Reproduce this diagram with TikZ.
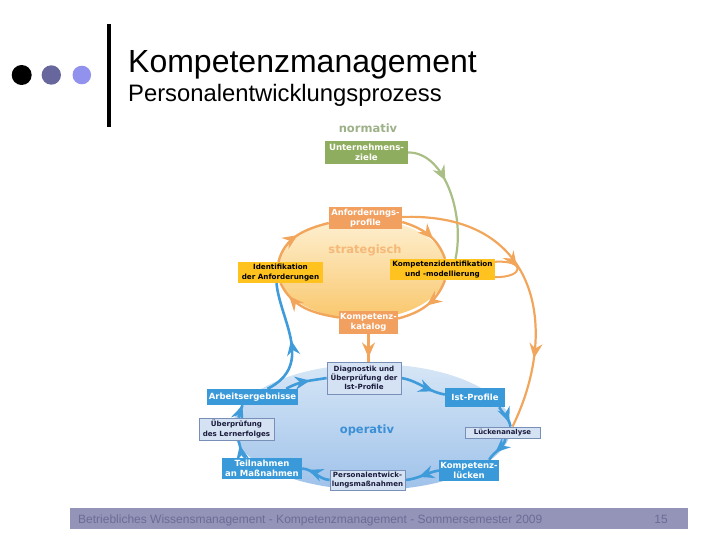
\documentclass[tikz,border=0pt]{standalone}
\usepackage{fontspec}
\setmainfont{Liberation Sans}
\newfontfamily\dv{DejaVu Sans}
\usetikzlibrary{arrows.meta,decorations.markings}
\definecolor{grn}{HTML}{8FAD5E}
\definecolor{grl}{HTML}{A9BF86}
\definecolor{grt}{HTML}{9DB088}
\definecolor{org}{HTML}{F2A060}
\definecolor{orl}{HTML}{F2A65C}
\definecolor{ort}{HTML}{F5B878}
\definecolor{ylw}{HTML}{FFC21E}
\definecolor{blu}{HTML}{3A9AD9}
\definecolor{bll}{HTML}{3F9BDA}
\definecolor{blt}{HTML}{3B8FD6}
\definecolor{lbl}{HTML}{D4E2F4}
\definecolor{lbd}{HTML}{7890B8}
\definecolor{navy}{HTML}{1C1C3C}
\definecolor{stA}{HTML}{FEF0D2}
\definecolor{stM}{HTML}{FDDD9C}
\definecolor{stB}{HTML}{F9C76C}
\definecolor{opA}{HTML}{D6E6F6}
\definecolor{opB}{HTML}{9FC2EA}
\definecolor{dotB}{HTML}{67679E}
\definecolor{dotC}{HTML}{9191EE}
\definecolor{barc}{HTML}{9494B8}
\definecolor{bart}{HTML}{6B6B96}
\pgfdeclarelayer{bg}
\pgfdeclarelayer{lines}
\pgfsetlayers{bg,lines,main}
\begin{document}
\begin{tikzpicture}[x=1pt,y=1pt,
  box/.style={rectangle, inner sep=0pt, align=center},
  gbox/.style={box, fill=grn, text=white, font=\dv\bfseries\fontsize{8.6}{9.8}\selectfont},
  obox/.style={box, fill=org, text=white, font=\dv\bfseries\fontsize{8.4}{9.8}\selectfont},
  ybox/.style={box, fill=ylw, text=black, font=\dv\bfseries\fontsize{7.2}{9.2}\selectfont},
  bbox/.style={box, fill=blu, text=white, font=\dv\bfseries\fontsize{8.5}{10}\selectfont},
  lbox/.style={box, fill=lbl, draw=lbd, line width=0.8pt, text=navy, font=\dv\bfseries\fontsize{7.1}{9.3}\selectfont},
  lvl/.style={inner sep=0pt, font=\dv\bfseries\fontsize{11.5}{12}\selectfont},
  oline/.style={draw=orl, line width=2.4pt},
  bline/.style={draw=bll, line width=2.6pt},
  gline/.style={draw=grl, line width=2.2pt},
  mid/.style={postaction={decorate}, decoration={markings, mark=at position #1 with {\arrow{Stealth[length=15pt,width=13pt,inset=5pt]}}}}
]
\useasboundingbox (0,0) rectangle (720,-540);

% header
\fill[black] (21.7,-75) circle (10);
\fill[dotB] (51.3,-75) circle (9.7);
\fill[dotC] (81.8,-75) circle (9.3);
\fill[black] (107,-24) rectangle (111,-127);
\node[anchor=base west, inner sep=0pt, font=\fontsize{32}{36}\selectfont] (title) at (128,-73) {Kompetenzmanagement};
\node[anchor=base west, inner sep=0pt, font=\fontsize{23.8}{28}\selectfont] (sub) at (128,-102) {Personalentwicklungsprozess};

% footer
\fill[barc] (70,-508) rectangle (688,-529);
\node[anchor=base west, inner sep=0pt, text=bart, font=\fontsize{12}{14}\selectfont] (foot) at (78,-523) {Betriebliches Wissensmanagement - Kompetenzmanagement - Sommersemester 2009};
\node[anchor=base, inner sep=0pt, text=bart, font=\fontsize{12}{14}\selectfont] (page) at (661,-523) {15};

% level labels
\node[lvl, text=grt] (norm) at (368,-128) {normativ};
\node[lvl, text=ort] (strat) at (365,-250) {strategisch};
\node[lvl, text=blt] (oper) at (367,-430) {operativ};

% boxes
\node[gbox, minimum width=83pt, minimum height=23pt] (unt) at (366.5,-152.5) {Unternehmens-\\ziele};
\node[obox, minimum width=73pt, minimum height=22pt] (anf) at (365.5,-218) {Anforderungs-\\profile};
\node[ybox, minimum width=85pt, minimum height=21pt] (ide) at (280.5,-272.5) {Identifikation\\der Anforderungen};
\node[ybox, minimum width=105pt, minimum height=21pt] (kid) at (442.5,-269.5) {Kompetenzidentifikation\\und -modellierung};
\node[obox, minimum width=59pt, minimum height=23pt] (kat) at (368.5,-322.5) {Kompetenz-\\katalog};

\node[lbox, minimum width=74pt, minimum height=32pt] (diag) at (364,-378) {Diagnostik und\\Überprüfung der\\Ist-Profile};
\node[bbox, minimum width=60pt, minimum height=19pt] (ist) at (475,-397.5) {Ist-Profile};
\node[lbox, minimum width=75pt, minimum height=11pt, font=\dv\bfseries\fontsize{6.9}{8}\selectfont] (lue) at (502.5,-432.5) {Lückenanalyse};
\node[bbox, minimum width=60pt, minimum height=21pt] (klu) at (469,-470.5) {Kompetenz-\\lücken};
\node[lbox, minimum width=75pt, minimum height=20pt] (pem) at (367.5,-480) {Personalentwick-\\lungsmaßnahmen};
\node[bbox, minimum width=80pt, minimum height=21pt] (tei) at (262,-468.5) {Teilnahmen\\an Maßnahmen};
\node[lbox, minimum width=75pt, minimum height=22pt] (ueb) at (236.5,-429) {Überprüfung\\des Lernerfolges};
\node[bbox, minimum width=91pt, minimum height=16pt] (arb) at (252.5,-397) {Arbeitsergebnisse};

% ellipses
\begin{pgfonlayer}{bg}
\shade[top color=stA, middle color=stM, bottom color=stB] (362,-269) ellipse [x radius=85, y radius=50];
\shade[top color=opA, bottom color=opB] (372,-427) ellipse [x radius=139, y radius=63];
\end{pgfonlayer}

% connectors
\begin{pgfonlayer}{lines}
% green
\draw[gline, mid=0.38] (unt.east) .. controls (445,-152) and (465,-215) .. ([xshift=13pt]kid.north);
% orange ring
\draw[oline, mid=0.6] ([yshift=-4pt]anf.east) to[out=-17,in=109] ([xshift=2.5pt]kid.north);
\draw[oline, mid=0.5] ([xshift=2.5pt]kid.south) to[out=-111,in=15] ([yshift=4pt]kat.east);
\draw[oline, mid=0.78] ([yshift=5pt]kat.west) to[out=171,in=-64] (ide.south);
\draw[oline, mid=0.5] ([xshift=-2pt]ide.north) to[out=76,in=-166] ([yshift=-5pt]anf.west);
% self loop
\draw[oline, line width=2pt, mid=0.45] ([yshift=-3pt]kid.north east) .. controls +(30,2) and +(30,0) .. ([yshift=3pt]kid.south east);
% big arc
\draw[oline, line width=2.2pt, mid=0.76] ([yshift=1pt]anf.east) .. controls (540,-212) and (560,-330) .. ([xshift=10pt]lue.north);
% catalog to diagnostics
\draw[oline, mid=0.85] (kat.south) -- (kat.south |- diag.north);
% blue ring
\draw[bline, mid=0.75] (diag.east) to[out=-10,in=170] ([yshift=3pt]ist.west);
\draw[bline, mid=0.8] ([xshift=-6pt]ist.south east) to[out=-60,in=100] ([xshift=8pt]lue.north);
\draw[bline, mid=0.65] ([xshift=3pt]lue.south) to[out=-100,in=60] ([xshift=-10pt]klu.north east);
\draw[bline, mid=0.6] (klu.west) to[out=190,in=5] (pem.east);
\draw[bline, mid=0.8] (pem.west) to[out=175,in=-5] (tei.east);
\draw[bline, mid=0.75] ([xshift=-16pt]tei.north) to[out=150,in=-70] ([xshift=2pt]ueb.south);
\draw[bline, mid=0.99] ([xshift=2pt]ueb.north) to[out=80,in=-110] ([xshift=-10pt]arb.south);
\draw[bline, mid=0.6] ([xshift=-12pt]arb.north east) to[out=30,in=190] (diag.west);
\draw[bline, mid=0.5] ([xshift=15pt]arb.north) .. controls (315,-365) and (280,-320) .. ([xshift=-4pt]ide.south);
\end{pgfonlayer}
\end{tikzpicture}
\end{document}
